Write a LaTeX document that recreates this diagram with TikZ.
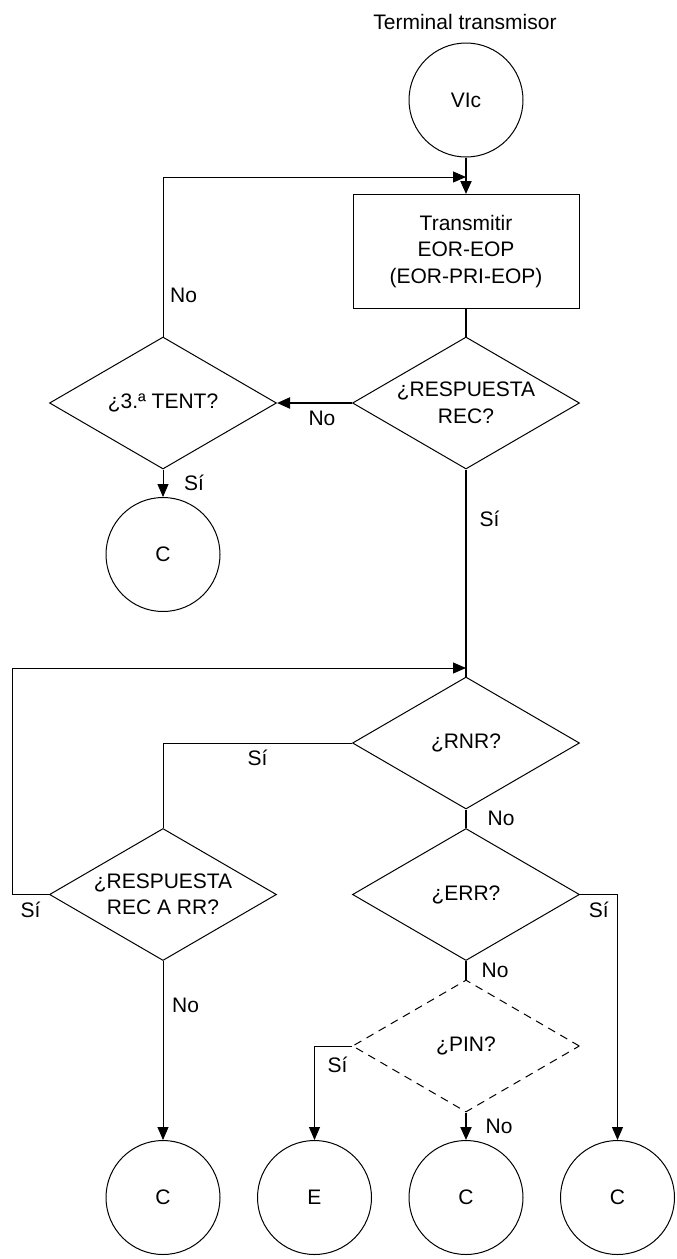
\documentclass[tikz,border=0pt]{standalone}
\usepackage{fontspec}
\setmainfont{Liberation Sans}
\usepackage{tikz}
\usetikzlibrary{arrows.meta}
\usetikzlibrary{positioning}
\usetikzlibrary{shapes.geometric}

\begin{document}
\begin{tikzpicture}[x=0.5pt,y=-0.5pt,>={Triangle[length=6.5pt,width=5.5pt]},node distance=75.75pt,
		line width=0.5pt,font=\fontsize{10.5}{13.25}\selectfont,
		term node/.style={circle,draw,minimum size=57pt,inner sep=0pt},
		proc node/.style={rectangle,draw,minimum width=113pt,minimum height=57pt,align=center},
		dec node/.style={diamond,draw,aspect=1.72,minimum width=113.5pt,minimum height=66pt,inner sep=0pt,align=center},
		main line/.style={line width=1pt}]

	\useasboundingbox (0,0) rectangle (676,1259);

	\node (title) at (465,22) {Terminal transmisor};
	\node[term node] (VIc) at (466,100) {VIc};
	\node[proc node] (TX) [below of=VIc] {Transmitir\\EOR-EOP\\(EOR-PRI-EOP)};
	\node[dec node] (RESP) [below of=TX] {¿RESPUESTA\\REC?};
	\node[dec node] (TENT) [node distance=151.5pt,left of=RESP] {¿3.ª TENT?};
	\node[term node] (C1) [below of=TENT] {C};
	\node[dec node] (RNR) [node distance=170pt,below of=RESP] {¿RNR?};
	\node[dec node] (ERR) [below of=RNR] {¿ERR?};
	\node[dec node] (RR) [node distance=151.5pt,left of=ERR] {¿RESPUESTA\\REC A RR?};
	\node[dec node,dash pattern=on 4pt off 3pt] (PIN) [below of=ERR] {¿PIN?};
	\node[term node] (C3) [below of=PIN] {C};
	\node[term node] (E) [left of=C3] {E};
	\node[term node] (C2) [left of=E] {C};
	\node[term node] (C4) [right of=C3] {C};

	% puntos de union de los bucles
	\coordinate (entry) at (466,177);
	\coordinate (back) at (466,668);
	\coordinate (margin) at (12,668);

	\draw[main line,->] (VIc) -- (TX);
	\draw[->] (TENT) |- node[pos=0.13,right] (no1) {No} (entry);
	\draw[main line] (TX) -- (RESP);
	\draw[main line,->] (RESP) -- node[pos=0.4,below] (no2) {No} (TENT);
	\draw[->] (TENT) -- node[right=7pt] (si1) {Sí} (C1);
	\draw[main line] (RESP) -- node[pos=0.24,right=3pt] (si2) {Sí} (RNR);
	\draw[->] (RR.west) -- node[below] (si3) {Sí} (RR.west -| margin) |- (back);
	\draw (RNR.west) -| node[pos=0.25,below] (si4) {Sí} (RR.north);
	\draw[main line] (RNR) -- node[right=7pt] (no3) {No} (ERR);
	\draw[->] (ERR.east) -| node[pos=0.25,below] (si5) {Sí} (C4);
	\draw[main line] (ERR) -- node[right=4pt] (no4) {No} (PIN);
	\draw[->] (PIN.west) -| node[pos=0.6,right=3pt] (si6) {Sí} (E);
	\draw[main line,->] (PIN) -- node[right=6pt] (no5) {No} (C3);
	\draw[->] (RR) -- node[pos=0.25,right=1pt] (no6) {No} (C2);

\end{tikzpicture}
\end{document}
